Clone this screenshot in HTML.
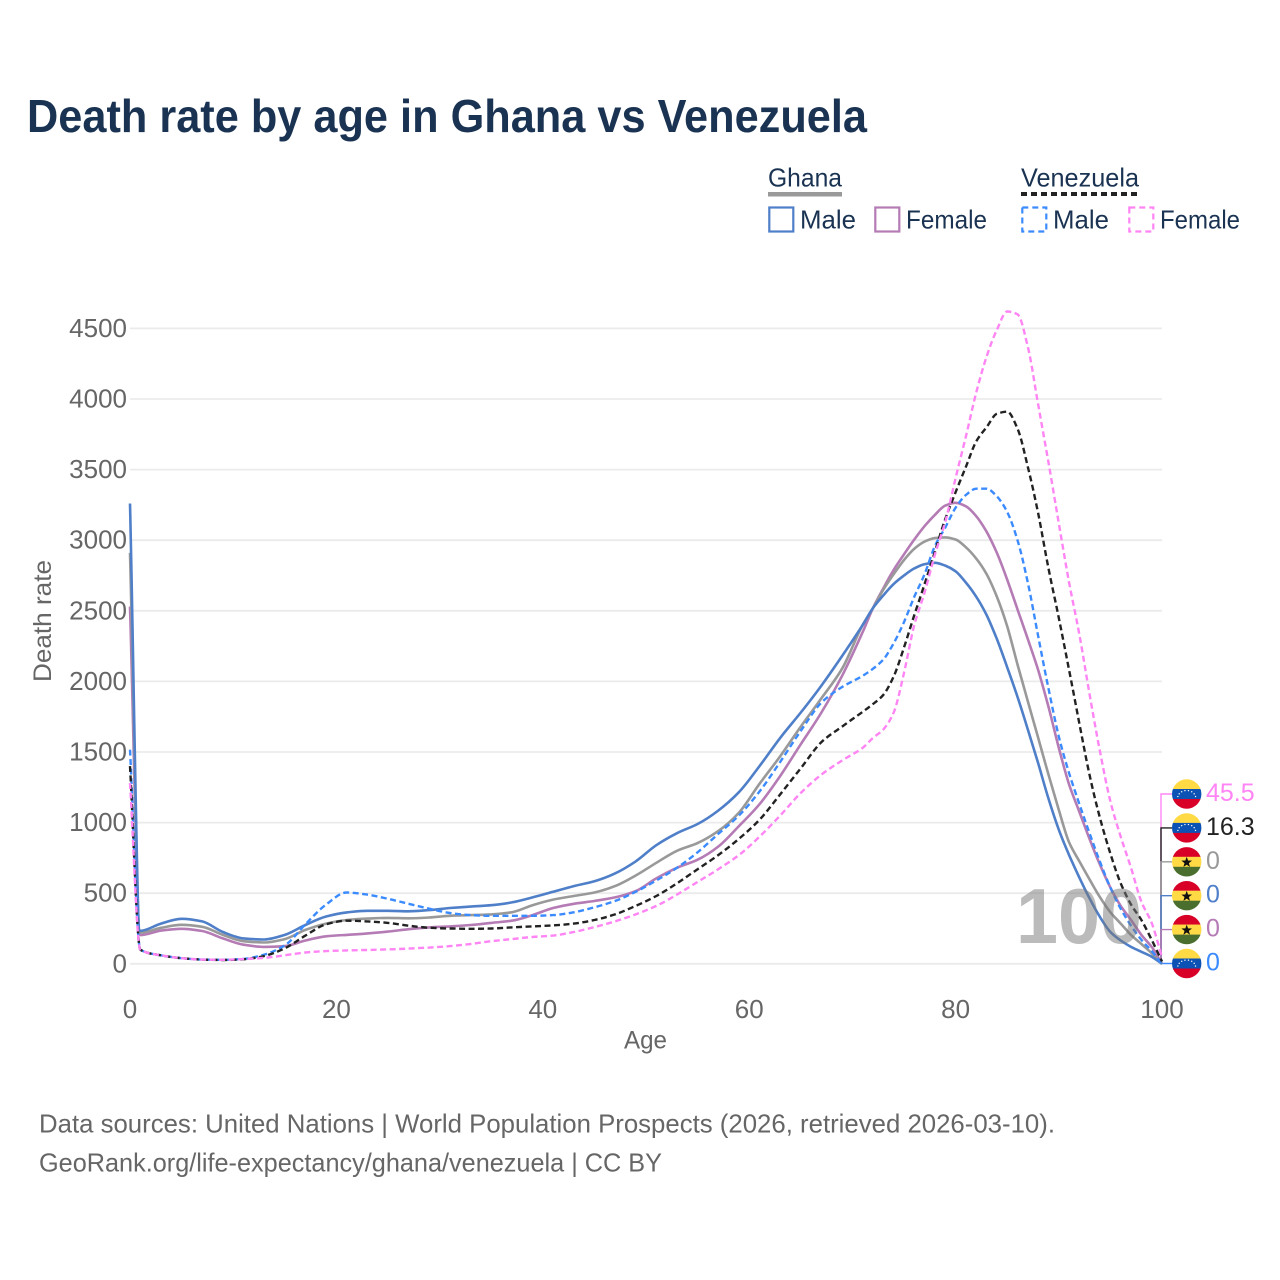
<!DOCTYPE html>
<html lang="en">
<head>
<meta charset="utf-8">
<title>Death rate by age in Ghana vs Venezuela</title>
<style>
html,body{margin:0;padding:0;background:#fff;}
svg{display:block;font-family:"Liberation Sans",sans-serif;}
</style>
</head>
<body>
<svg id="chart" xmlns="http://www.w3.org/2000/svg" width="1280" height="1280" viewBox="0 0 1280 1280">
  <rect x="0" y="0" width="1280" height="1280" fill="#fff"/>
  <text x="27" y="132" font-size="46" font-weight="700" fill="#1a3352" textLength="840" lengthAdjust="spacingAndGlyphs">Death rate by age in Ghana vs Venezuela</text>

  <g font-size="25.6" fill="#1a3352">
    <text x="768" y="186.5" textLength="74" lengthAdjust="spacingAndGlyphs">Ghana</text>
    <rect x="768" y="192" width="74" height="4.5" fill="#999"/>
    <text x="1021" y="186.5" textLength="118" lengthAdjust="spacingAndGlyphs">Venezuela</text>
    <line x1="1021" y1="194" x2="1139" y2="194" stroke="#222" stroke-width="4" stroke-dasharray="6 4"/>
    <rect x="769.3" y="207.5" width="24" height="24" fill="none" stroke="#4f7fc8" stroke-width="2.2"/>
    <text x="800" y="228.5" textLength="56" lengthAdjust="spacingAndGlyphs">Male</text>
    <rect x="875.3" y="207.5" width="24" height="24" fill="none" stroke="#b57bb5" stroke-width="2.2"/>
    <text x="906" y="228.5" textLength="81" lengthAdjust="spacingAndGlyphs">Female</text>
    <rect x="1022.3" y="207.5" width="24" height="24" fill="none" stroke="#3b8bff" stroke-width="2.2" stroke-dasharray="6 4"/>
    <text x="1053" y="228.5" textLength="56" lengthAdjust="spacingAndGlyphs">Male</text>
    <rect x="1129.3" y="207.5" width="24" height="24" fill="none" stroke="#ff85f4" stroke-width="2.2" stroke-dasharray="6 4"/>
    <text x="1160" y="228.5" textLength="80" lengthAdjust="spacingAndGlyphs">Female</text>
  </g>

  <g id="grid"></g>
  <g id="yticks" font-size="26" fill="#666"></g>
  <g id="xticks" font-size="26" fill="#666"></g>
  <text x="645.5" y="1048.5" font-size="25" fill="#666" text-anchor="middle" textLength="43" lengthAdjust="spacingAndGlyphs">Age</text>
  <text transform="translate(51,621) rotate(-90)" font-size="25" fill="#666" text-anchor="middle" textLength="122" lengthAdjust="spacingAndGlyphs">Death rate</text>

  <g id="connectors"></g>
  <g id="series"></g>
  <g id="flags"></g>
  <text x="1142" y="943" font-size="78" font-weight="700" fill="#777" fill-opacity="0.5" text-anchor="end" textLength="126" lengthAdjust="spacingAndGlyphs">100</text>

  <g font-size="25.6" fill="#666">
    <text x="39" y="1132.5" textLength="1016" lengthAdjust="spacingAndGlyphs">Data sources: United Nations | World Population Prospects (2026, retrieved 2026-03-10).</text>
    <text x="39" y="1171.5" textLength="623" lengthAdjust="spacingAndGlyphs">GeoRank.org/life-expectancy/ghana/venezuela | CC BY</text>
  </g>
</svg>
<script>
const ages = [0,1,3,5,7,9,11,13,15,17,19,21,23,25,27,29,31,33,35,37,39,41,43,45,47,49,51,53,55,57,59,61,63,65,67,69,71,72,73,74,75,76,77,78,79,80,81,82,83,84,85,86,87,88,89,90,91,92,93,94,95,96,97,98,99,100];
const ghanaMale = [3260,234,285,319,300,225,180,172,205,275,335,364,375,375,372,380,395,405,415,435,470,510,550,585,640,725,840,925,990,1085,1215,1400,1600,1780,1970,2180,2400,2520,2610,2690,2750,2800,2830,2840,2820,2780,2700,2600,2470,2300,2100,1890,1660,1420,1170,950,770,610,460,330,225,165,120,85,50,0];
const ghanaBoth = [2910,220,255,276,262,205,160,151,175,240,285,310,320,325,322,328,340,345,350,365,415,455,480,505,550,625,715,800,855,940,1070,1275,1470,1680,1880,2090,2400,2520,2650,2760,2860,2940,2990,3015,3020,3005,2950,2870,2760,2600,2390,2120,1860,1600,1340,1090,860,725,595,470,365,285,205,140,75,0];
const ghanaFemale = [2530,203,235,248,232,180,135,120,125,165,195,205,215,228,245,258,265,275,290,305,345,395,425,445,470,515,605,680,737,830,975,1130,1330,1555,1780,2040,2350,2520,2660,2790,2900,3005,3100,3180,3245,3265,3240,3170,3060,2910,2720,2510,2300,2080,1820,1530,1270,1075,880,700,540,410,310,205,120,0];
const venezuelaMale = [1516,100,60,40,30,28,35,65,130,280,420,505,490,460,425,390,360,345,340,340,340,345,365,400,445,510,590,680,790,920,1050,1220,1430,1650,1850,1960,2040,2090,2155,2270,2420,2600,2760,2960,3090,3230,3320,3365,3365,3310,3200,3000,2700,2320,1950,1610,1350,1130,920,720,540,390,270,170,90,0];
const venezuelaBoth = [1400,100,60,40,30,27,32,55,110,200,280,305,300,290,270,255,250,248,250,258,265,272,285,310,350,410,480,570,670,770,885,1020,1200,1385,1570,1680,1785,1840,1905,2035,2240,2470,2690,2920,3150,3340,3520,3700,3800,3895,3910,3790,3520,3190,2800,2450,2080,1700,1330,1030,780,570,420,310,170,16.3];
const venezuelaFemale = [1280,100,60,40,30,28,33,42,60,80,90,95,98,102,108,115,125,140,160,175,190,200,225,260,300,350,410,490,580,670,770,900,1050,1210,1340,1440,1530,1600,1660,1780,2060,2400,2630,2900,3130,3440,3735,4045,4300,4490,4620,4600,4370,3960,3550,3120,2700,2330,1900,1500,1150,900,680,440,290,45.5];
const yTickValues = [0,500,1000,1500,2000,2500,3000,3500,4000,4500];
const xTickValues = [0,20,40,60,80,100];
const endLabels = ['45.5','16.3','0','0','0','0'];

const NS = 'http://www.w3.org/2000/svg';
const xScale = function (age) { return 130 + age * 10.32; };
const yScale = function (v) { return 963.8 - v * 0.14120; };
function mk(tag, parent) {
  const el = document.createElementNS(NS, tag);
  parent.appendChild(el);
  return el;
}
function set(el, attrs) {
  Object.keys(attrs).forEach(function (k) { el.setAttribute(k, attrs[k]); });
  return el;
}
function monotonePath(xs, ys) {
  const n = xs.length;
  const d = [];
  for (let i = 0; i < n - 1; i++) d.push((ys[i + 1] - ys[i]) / (xs[i + 1] - xs[i]));
  const m = [d[0]];
  for (let i = 1; i < n - 1; i++) {
    if (d[i - 1] * d[i] <= 0) { m.push(0); continue; }
    const h0 = xs[i] - xs[i - 1];
    const h1 = xs[i + 1] - xs[i];
    const w1 = 2 * h1 + h0;
    const w2 = h1 + 2 * h0;
    m.push((w1 + w2) / (w1 / d[i - 1] + w2 / d[i]));
  }
  m.push(d[n - 2]);
  let p = 'M' + xs[0].toFixed(1) + ' ' + ys[0].toFixed(1);
  for (let i = 0; i < n - 1; i++) {
    const h = (xs[i + 1] - xs[i]) / 3;
    p += 'C' + (xs[i] + h).toFixed(1) + ' ' + (ys[i] + m[i] * h).toFixed(1) + ' ' +
      (xs[i + 1] - h).toFixed(1) + ' ' + (ys[i + 1] - m[i + 1] * h).toFixed(1) + ' ' +
      xs[i + 1].toFixed(1) + ' ' + ys[i + 1].toFixed(1);
  }
  return p;
}

const gridG = document.getElementById('grid');
const yG = document.getElementById('yticks');
yTickValues.forEach(function (v) {
  const line = mk('line', gridG);
  
  
  set(line, {x1: 130, x2: 1162, y1: yScale(v), y2: yScale(v), stroke: '#ebebeb', 'stroke-width': 1.8});
  const t = mk('text', yG);
  
  
  set(t, {x: 127, y: yScale(v) + 8.5, 'text-anchor': 'end'});
  t.textContent = String(v);
});
const xG = document.getElementById('xticks');
xTickValues.forEach(function (v) {
  const t = mk('text', xG);
  
  
  set(t, {x: xScale(v), y: 1018, 'text-anchor': 'middle'});
  t.textContent = String(v);
});

const seriesG = document.getElementById('series');
function drawSeries(values, name, color, dashed) {
  const d = monotonePath(ages.map(xScale), values.map(yScale));
  const pl = mk('path', seriesG);
  
  
  set(pl, {d: d, fill: 'none', stroke: color, 'stroke-width': dashed ? 2.4 : 2.6, 'stroke-linejoin': 'round'});
  if (dashed) pl.setAttribute('stroke-dasharray', '6 3.5');
}
drawSeries(ghanaFemale, 'line-ghana-female', '#b57bb5', false);
drawSeries(ghanaBoth, 'line-ghana-both', '#999999', false);
drawSeries(ghanaMale, 'line-ghana-male', '#4f7fc8', false);
drawSeries(venezuelaMale, 'line-venezuela-male', '#3b8bff', true);
drawSeries(venezuelaBoth, 'line-venezuela-both', '#222222', true);
drawSeries(venezuelaFemale, 'line-venezuela-female', '#ff85f4', true);

const labelColors = ['#ff85f4', '#222222', '#999999', '#4f7fc8', '#b57bb5', '#3b8bff'];
const labelCountries = ['venezuela', 'venezuela', 'ghana', 'ghana', 'ghana', 'venezuela'];
const labelSeriesEnds = [venezuelaFemale, venezuelaBoth, ghanaBoth, ghanaMale, ghanaFemale, venezuelaMale];
const connG = document.getElementById('connectors');
const flagsG = document.getElementById('flags');
const defs = mk('defs', document.getElementById('chart'));

labelCountries.forEach(function (country, i) {
  const cy = 794 + i * 33.9;
  const cx = 1186.7;
  const color = labelColors[i];
  const endY = yScale(labelSeriesEnds[i][labelSeriesEnds[i].length - 1]);

  const conn = mk('polyline', connG);
  
  
  set(conn, {points: '1161,' + endY + ' 1161,' + cy + ' 1172,' + cy, fill: 'none', stroke: color, 'stroke-width': 1.4});

  const cp = mk('clipPath', defs);
  cp.setAttribute('id', 'clip' + i);
  set(mk('circle', cp), {cx: cx, cy: cy, r: 14.7});

  const g = mk('g', flagsG);
  
  
  g.setAttribute('clip-path', 'url(#clip' + i + ')');
  const top = cy - 15;
  const bands = country === 'ghana' ? ['#d80027', '#ffda44', '#496e2d'] : ['#ffda44', '#0b52b4', '#d80027'];
  bands.forEach(function (c, b) {
    set(mk('rect', g), {x: cx - 15, y: top + b * 10, width: 30, height: 10.2, fill: c});
  });
  if (country === 'ghana') {
    const star = [];
    for (let k = 0; k < 10; k++) {
      const r = k % 2 ? 2.3 : 5.6;
      const a = -Math.PI / 2 + k * Math.PI / 5;
      star.push((cx + r * Math.cos(a)).toFixed(2) + ',' + (cy + 0.6 + r * Math.sin(a)).toFixed(2));
    }
    set(mk('polygon', g), {points: star.join(' '), fill: '#111'});
  } else {
    for (let k = 0; k < 8; k++) {
      const a = Math.PI + (k + 0.5) * Math.PI / 8;
      set(mk('circle', g), {cx: cx + 9 * Math.cos(a), cy: cy + 4 + 7.5 * Math.sin(a), r: 0.7, fill: '#fff'});
    }
  }

  const t = mk('text', flagsG);
  
  
  set(t, {x: 1206, y: cy + 7, 'font-size': 25, fill: color});
  t.textContent = endLabels[i];
});
</script>
</body>
</html>
